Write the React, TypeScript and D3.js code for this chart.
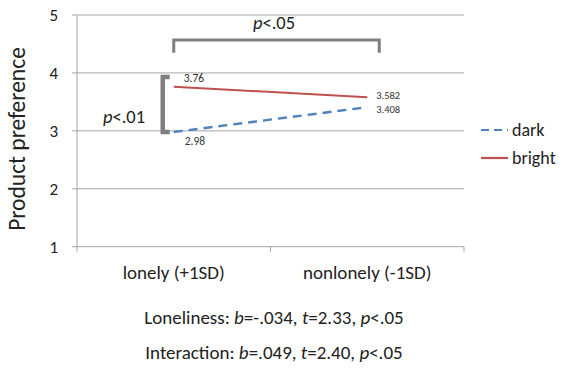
import React from "react";
import * as d3 from "d3";

const categories = ["lonely (+1SD)", "nonlonely (-1SD)"];
const darkValues = [2.98, 3.408];
const brightValues = [3.76, 3.582];
const darkLabels = ["2.98", "3.408"];
const brightLabels = ["3.76", "3.582"];
const yTicks = [1, 2, 3, 4, 5];
const seriesNames = ["dark", "bright"];
const topBracket = { y: 4.57, yEnd: 4.35, label: "p<.05" };
const sideBracket = { yTop: 3.93, yBottom: 2.98, label: "p<.01" };

const FONT = "Carlito, Calibri, Lato, 'Open Sans', sans-serif";
const BLUE = "#4F81BD";
const RED = "#C0504D";
const GRID = "#A6A6A6";
const BRACKET = "#7F7F7F";

export default function App() {
  const W = 566, H = 370;
  const left = 77, right = 464, top = 15, bottom = 246.7;
  const x = d3.scaleBand<string>().domain(categories).range([left, right]);
  const cx = (c: string) => (x(c) as number) + x.bandwidth() / 2;
  const y = d3.scaleLinear().domain([1, 5]).range([bottom, top]);
  const line = d3.line<number>().x((_, i) => cx(categories[i])).y((v) => y(v));

  const x0 = cx(categories[0]);
  const x1 = cx(categories[1]);

  return (
    <div style={{ position: "fixed", left: 0, top: 0 }}>
      <svg width={W} height={H} style={{ display: "block", background: "#fff" }} fontFamily={FONT}>
        {yTicks.map((t) => (
          <g key={t}>
            <line x1={left - 5} x2={right} y1={y(t)} y2={y(t)} stroke={GRID} strokeWidth={1} />
            <text x={58} y={y(t)} dy="0.35em" textAnchor="end" fontSize={17} fill="#222">{t}</text>
          </g>
        ))}
        <line x1={left} x2={left} y1={top} y2={bottom} stroke={GRID} strokeWidth={1} />
        {[left, left + x.bandwidth(), right].map((tx, i) => (
          <line key={i} x1={tx} x2={tx} y1={bottom} y2={bottom + 5} stroke={GRID} strokeWidth={1} />
        ))}
        {categories.map((c) => (
          <text key={c} x={cx(c)} y={272} dy="0.35em" textAnchor="middle" fontSize={19} fill="#222">{c}</text>
        ))}
        <text transform={`translate(17,139) rotate(-90)`} textAnchor="middle" dy="0.35em" fontSize={23.5} fill="#222">Product preference</text>

        <path d={line(darkValues) || ""} fill="none" stroke={BLUE} strokeWidth={2.4} strokeDasharray="9,6" />
        <path d={line(brightValues) || ""} fill="none" stroke={RED} strokeWidth={2} />

        <text x={x0 + 10} y={y(brightValues[0]) - 9} dy="0.35em" fontSize={11.5} fill="#333">{brightLabels[0]}</text>
        <text x={x0 + 11} y={y(darkValues[0]) + 9} dy="0.35em" fontSize={11.5} fill="#333">{darkLabels[0]}</text>
        <text x={x1 + 9} y={y(brightValues[1]) - 1.5} dy="0.35em" fontSize={10.5} fill="#333">{brightLabels[1]}</text>
        <text x={x1 + 9} y={y(darkValues[1]) + 2} dy="0.35em" fontSize={10.5} fill="#333">{darkLabels[1]}</text>

        <path d={`M${x0},${y(topBracket.yEnd)}V${y(topBracket.y)}H${x1 + 12}V${y(topBracket.yEnd)}`} fill="none" stroke={BRACKET} strokeWidth={3} />
        <text x={274} y={23} dy="0.35em" textAnchor="middle" fontSize={18.5} fill="#222">
          <tspan fontStyle="italic">p</tspan>&lt;.05
        </text>
        <path d={`M${x0 - 4},${y(sideBracket.yTop)}H${x0 - 11}V${y(sideBracket.yBottom)}H${x0 - 4}`} fill="none" stroke={BRACKET} strokeWidth={4.5} />
        <text x={124} y={117} dy="0.35em" textAnchor="middle" fontSize={18.5} fill="#222">
          <tspan fontStyle="italic">p</tspan>&lt;.01
        </text>

        {seriesNames.map((s, i) => (
          <g key={s} transform={`translate(481,${130 + i * 28})`}>
            <line x1={0} x2={27} y1={0} y2={0} stroke={i === 0 ? BLUE : RED} strokeWidth={2.2} strokeDasharray={i === 0 ? "8,5" : undefined} />
            <text x={31} y={0} dy="0.35em" fontSize={18} fill="#222">{s}</text>
          </g>
        ))}

        <text x={274} y={317} dy="0.35em" textAnchor="middle" fontSize={19} fill="#222">
          Loneliness: <tspan fontStyle="italic">b</tspan>=-.034, <tspan fontStyle="italic">t</tspan>=2.33, <tspan fontStyle="italic">p</tspan>&lt;.05
        </text>
        <text x={274} y={352} dy="0.35em" textAnchor="middle" fontSize={19} fill="#222">
          Interaction: <tspan fontStyle="italic">b</tspan>=.049, <tspan fontStyle="italic">t</tspan>=2.40, <tspan fontStyle="italic">p</tspan>&lt;.05
        </text>
      </svg>
    </div>
  );
}
